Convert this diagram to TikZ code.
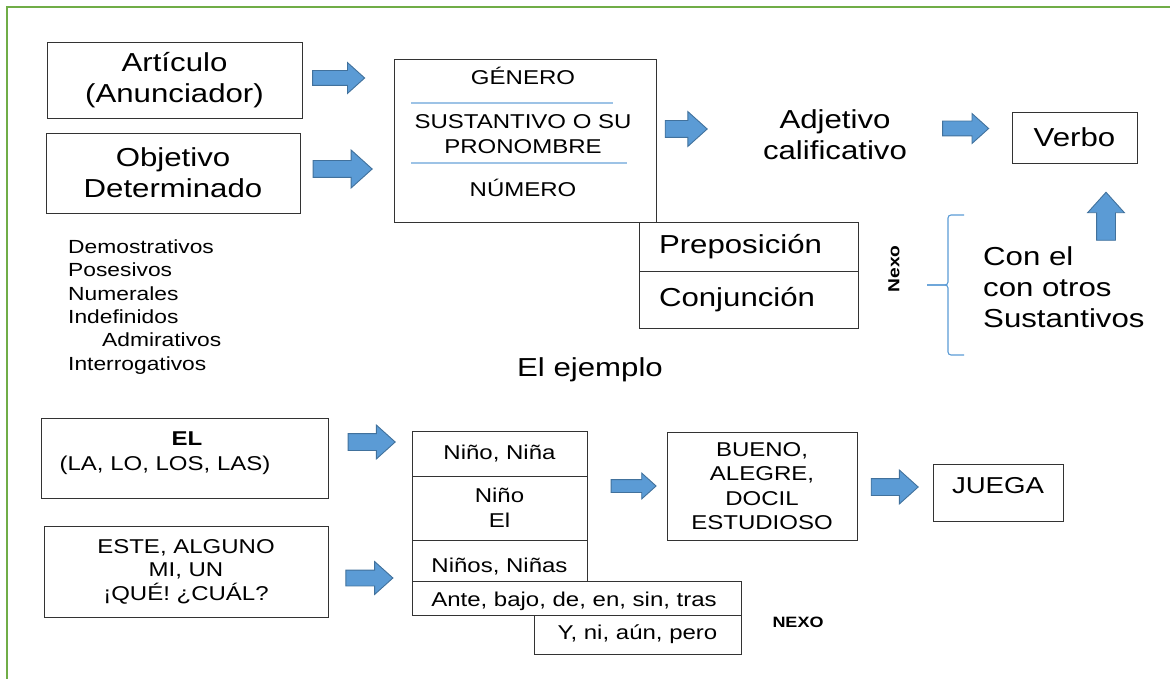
\documentclass[tikz,border=0pt]{standalone}
\usepackage{fontspec}
\setmainfont[FakeStretch=1.2]{Liberation Sans}
\usepackage{tikz}
\usetikzlibrary{shapes.arrows}
\definecolor{flechaazul}{HTML}{5B9BD5}
\definecolor{flechaborde}{HTML}{41719C}
\definecolor{lineaazul}{HTML}{9DC3E6}
\definecolor{marco}{HTML}{70AD47}
\tikzstyle{caja} = [rectangle, draw=black!80, line width=0.9pt, fill=white, inner sep=0pt, align=center]
\tikzstyle{grande} = [font=\fontsize{26}{31}\selectfont, inner sep=0pt]
\tikzstyle{chico} = [font=\fontsize{20}{24.5}\selectfont, inner sep=0pt]
\tikzstyle{chicob} = [font=\fontsize{20}{24.5}\selectfont\bfseries, inner sep=0pt]
\tikzstyle{flecha} = [single arrow, draw=flechaborde, fill=flechaazul, line width=0.9pt, inner xsep=0pt, inner ysep=7.5pt, single arrow head extend=8.5pt, single arrow tip angle=84]
\tikzstyle{llave} = [draw=flechaazul, line width=1.1pt, rounded corners=3pt]

\begin{document}
\begin{tikzpicture}[x=1pt, y=-1pt]
\useasboundingbox (0,0) rectangle (1170,679);
\draw[marco, line width=2.5pt] (7,679) -- (7,7) -- (1170,7);

% arriba
\node[caja, grande, minimum width=255, minimum height=76] (art) at (174.5,80) {Artículo\\(Anunciador)};
\node[caja, grande, minimum width=254, minimum height=80] (obj) at (173,173) {Objetivo\\Determinado};
\node[flecha, minimum height=52, inner ysep=7pt, single arrow head extend=8pt] (f1) at (334.5,78) {};
\node[flecha, minimum height=59, inner ysep=8pt, single arrow head extend=10.5pt] (f2) at (338,169) {};

\node[caja, minimum width=262, minimum height=163] (sust) at (525,140.5) {};
\node[chico, anchor=base] (gen) at (523,85) {GÉNERO};
\node[chico, align=center] (pron) at (523,134) {SUSTANTIVO O SU\\PRONOMBRE};
\node[chico, anchor=base] (num) at (523,197) {NÚMERO};
\draw[lineaazul, line width=1.2pt] (411,103) -- (613,103);
\draw[lineaazul, line width=1.2pt] (411,163) -- (627,163);

\node[flecha, minimum height=42, inner ysep=8pt, single arrow head extend=9pt] (f3) at (681.5,129) {};
\node[grande, align=center] (adj) at (835,135) {Adjetivo\\calificativo};
\node[flecha, minimum height=46, inner ysep=7pt, single arrow head extend=7.5pt] (f4) at (961.5,128.5) {};
\node[caja, grande, minimum width=125, minimum height=51] (verbo) at (1074.5,137.5) {Verbo};
\node[flecha, rotate=90, minimum height=48, inner ysep=9pt, single arrow head extend=9pt] (f5) at (1106,221.5) {};

\node[caja, grande, minimum width=219, minimum height=49, text width=179, align=left] (prep) at (748.5,246.5) {Preposición};
\node[caja, grande, minimum width=219, minimum height=57, text width=179, align=left] (conj) at (748.5,299.5) {Conjunción};

\node[font=\fontsize{16}{19}\selectfont\bfseries, rotate=90, inner sep=0pt] (nexo) at (894,269) {Nexo};
\draw[llave] (964,215) -- (948,215) -- (948,285) -- (927,285);
\draw[llave] (927,285) -- (948,285) -- (948,355) -- (964,355);
\node[grande, align=left, anchor=north west] (con) at (983,246) {Con el\\con otros\\Sustantivos};

\node[font=\fontsize{19}{23.4}\selectfont, align=left, anchor=north west, inner sep=0pt] (lista) at (68,239.4)
  {Demostrativos\\Posesivos\\Numerales\\Indefinidos\\\hspace{34pt}Admirativos\\Interrogativos};

\node[grande] (ejemplo) at (590,370) {El ejemplo};

% abajo
\node[caja, minimum width=287, minimum height=80] (el) at (184.5,458) {};
\node[chicob, anchor=base] (elt) at (187,445) {EL};
\node[chico, anchor=base] (las) at (165,470) {(LA, LO, LOS, LAS)};
\node[flecha, minimum height=47, inner ysep=8pt] (f6) at (367,442) {};
\node[caja, chico, minimum width=284, minimum height=91, font=\fontsize{20}{23.5}\selectfont] (este) at (186,571.5) {ESTE, ALGUNO\\MI, UN\\¡QUÉ! ¿CUÁL?};
\node[flecha, minimum height=47] (f7) at (365,578) {};

\node[caja, chico, minimum width=175, minimum height=45] (n1) at (499.5,453.5) {Niño, Niña};
\node[caja, chico, minimum width=175, minimum height=64] (n2) at (499.5,508) {Niño\\El};
\node[caja, minimum width=175, minimum height=41] (n3) at (499.5,560.5) {};
\node[chico, anchor=base] (n3t) at (499.5,572) {Niños, Niñas};
\node[caja, minimum width=329, minimum height=34] (ante) at (576.5,598) {};
\node[chico, anchor=base] (antet) at (574,606) {Ante, bajo, de, en, sin, tras};
\node[caja, chico, minimum width=207, minimum height=39] (yni) at (637.5,634.5) {Y, ni, aún, pero};
\node[font=\fontsize{15}{18}\selectfont\bfseries, anchor=base, inner sep=0pt] (nexo2) at (798,627) {NEXO};

\node[flecha, minimum height=45, inner ysep=6pt, single arrow head extend=6.5pt] (f8) at (630,486) {};
\node[caja, chico, minimum width=190, minimum height=108] (bueno) at (762,486) {BUENO,\\ALEGRE,\\DOCIL\\ESTUDIOSO};
\node[flecha, minimum height=47, inner ysep=8pt] (f9) at (890,487) {};
\node[caja, minimum width=130, minimum height=57] (juega) at (998,492.5) {};
\node[font=\fontsize{23}{27}\selectfont, anchor=base, inner sep=0pt] (juegat) at (998,493) {JUEGA};
\end{tikzpicture}
\end{document}
